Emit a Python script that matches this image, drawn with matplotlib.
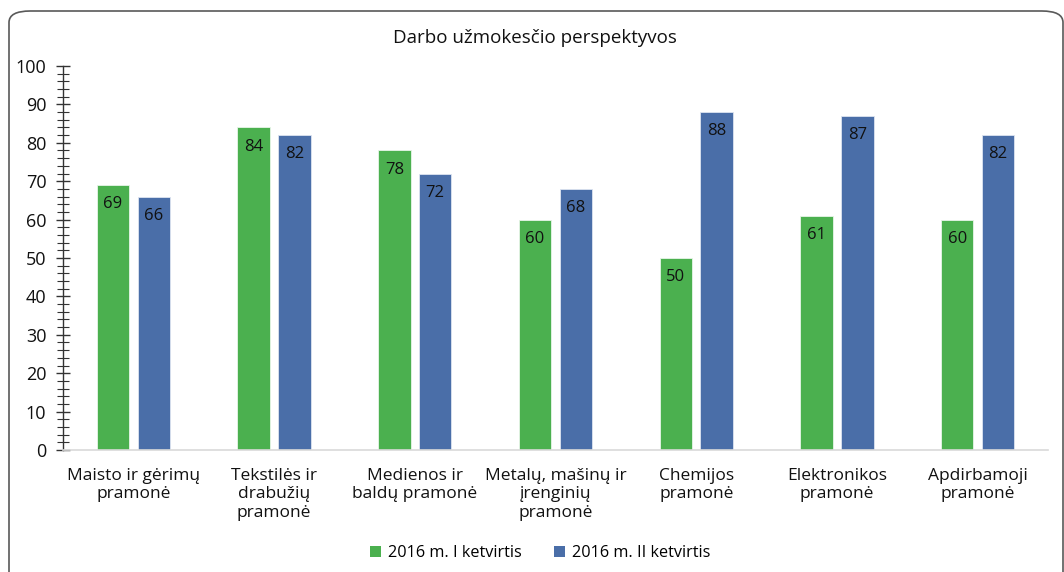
import matplotlib
matplotlib.use("Agg")
import matplotlib.pyplot as plt
from matplotlib.patches import FancyBboxPatch, Patch
from matplotlib.ticker import MultipleLocator
import numpy as np

plt.rcParams['font.family'] = ['Open Sans', 'DejaVu Sans']

title = "Darbo užmokesčio perspektyvos"
categories = ["Maisto ir gėrimų\npramonė", "Tekstilės ir\ndrabužių\npramonė",
              "Medienos ir\nbaldų pramonė", "Metalų, mašinų ir\nįrenginių\npramonė",
              "Chemijos\npramonė", "Elektronikos\npramonė", "Apdirbamoji\npramonė"]
series_names = ["2016 m. I ketvirtis", "2016 m. II ketvirtis"]
q1 = [69, 84, 78, 60, 50, 61, 60]
q2 = [66, 82, 72, 68, 88, 87, 82]
yticks = [0, 10, 20, 30, 40, 50, 60, 70, 80, 90, 100]

green = "#4BB04F"
blue = "#4A6EA8"

W, H = 1064, 572
fig = plt.figure(figsize=(W / 100, H / 100), dpi=100)
fig.patch.set_facecolor("white")

frame = FancyBboxPatch((9 / W, -20 / H), (1054 / W), (H - 11 + 20) / H,
                       boxstyle="round,pad=0,rounding_size=0.02",
                       transform=fig.transFigure, facecolor="none",
                       edgecolor="#595959", linewidth=1.2, zorder=-10)
fig.patches.append(frame)

ax_l, ax_r, ax_b, ax_t = 63, 1048, 572 - 450, 572 - 66
ax = fig.add_axes([ax_l / W, ax_b / H, (ax_r - ax_l) / W, (ax_t - ax_b) / H])
ax.set_facecolor("none")

x = np.arange(len(categories))
bw = 0.23
off = 0.145
b1 = ax.bar(x - off, q1, bw, color=green, edgecolor="#e8f5e8", linewidth=0.6, label=series_names[0])
b2 = ax.bar(x + off, q2, bw, color=blue, edgecolor="#dde4f0", linewidth=0.6, label=series_names[1])

for bars, vals in ((b1, q1), (b2, q2)):
    for r, v in zip(bars, vals):
        ax.text(r.get_x() + r.get_width() / 2, v - 5.0, str(v), ha="center", va="center",
                fontsize=12, color="#111111")

ax.set_xlim(-0.5, len(categories) - 0.5)
ax.set_ylim(0, 100)
ax.set_yticks(yticks)
ax.set_yticklabels([str(t) for t in yticks], fontsize=13, color="#111111")
ax.yaxis.set_minor_locator(MultipleLocator(2))
ax.tick_params(axis="y", which="major", direction="inout", length=10, width=1.0, color="#333333", pad=7)
ax.tick_params(axis="y", which="minor", direction="inout", length=8, width=0.8, color="#333333")
ax.set_xticks(x)
ax.set_xticklabels(categories, fontsize=12.5, color="#111111", linespacing=1.2, va="top")
ax.tick_params(axis="x", length=0, pad=13)

for s in ("top", "right"):
    ax.spines[s].set_visible(False)
ax.spines["left"].set_color("#333333")
ax.spines["left"].set_linewidth(1.0)
ax.spines["bottom"].set_color("#d9d9d9")
ax.spines["bottom"].set_linewidth(1.2)

fig.text(535 / W, 1 - 38 / H, title, ha="center", va="center", fontsize=13.5, color="#111111")

handles = [Patch(facecolor=green, edgecolor="none"), Patch(facecolor=blue, edgecolor="none")]
fig.legend(handles, series_names, loc="center", bbox_to_anchor=(540 / W, 1 - 553 / H),
           ncol=2, frameon=False, fontsize=11.7, handlelength=0.7, handleheight=0.7,
           handletextpad=0.4, columnspacing=2.0)

fig.savefig("out.png", dpi=100, facecolor="white")
